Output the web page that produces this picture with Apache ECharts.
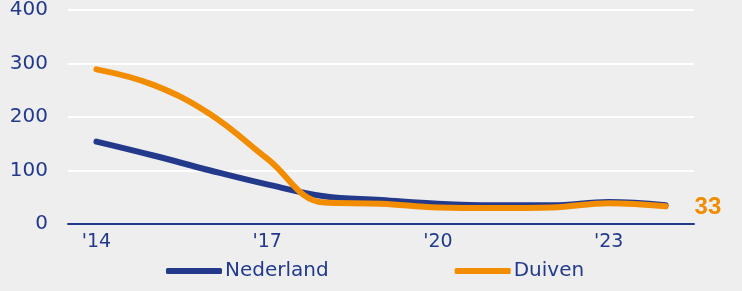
<!DOCTYPE html>
<html>
<head>
<meta charset="utf-8">
<script src="https://cdn.jsdelivr.net/npm/echarts@6/dist/echarts.min.js"></script>
<style>
  html, body { margin: 0; padding: 0; background: #eeeeee; }
  #main { width: 742px; height: 291px; }
</style>
</head>
<body>
<div id="main"></div>
<script>
// jaren 2014 - 2024
var years = ["'14", "'15", "'16", "'17", "'18", "'19", "'20", "'21", "'22", "'23", "'24"];
var nederland = [154, 128, 100, 74, 52, 45, 38, 35, 35, 41, 35];
var duiven = [289, 260, 205, 122, 40, 38, 31, 30, 31, 39, 33];
var yTicks = [0, 100, 200, 300, 400];

var blue = '#233a8c';
var orange = '#f28c00';
var font = 'DejaVu Sans';

var chart = echarts.init(document.getElementById('main'));

var option = {
  backgroundColor: '#eeeeee',
  animation: false,
  textStyle: { fontFamily: font },
  grid: { left: 68, right: 48, top: 8, bottom: 67 },
  legend: {
    bottom: 5,
    left: 161,
    itemWidth: 56,
    itemHeight: 6,
    itemGap: 126,
    icon: 'roundRect',
    textStyle: { color: blue, fontSize: 20, fontFamily: font, padding: [0, 0, 0, -2] },
    data: ['Nederland', 'Duiven']
  },
  xAxis: {
    type: 'category',
    data: years,
    boundaryGap: true,
    axisLine: { lineStyle: { color: blue, width: 2 } },
    axisTick: { show: false },
    axisLabel: {
      color: blue, fontSize: 19, margin: 9,
      interval: function (i) { return i % 3 === 0; }
    }
  },
  yAxis: {
    type: 'value',
    min: yTicks[0],
    max: yTicks[yTicks.length - 1],
    interval: 100,
    axisLine: { show: false },
    axisTick: { show: false },
    axisLabel: { color: blue, fontSize: 20, margin: 20 },
    splitLine: { lineStyle: { color: '#ffffff', width: 2 } }
  },
  series: [
    {
      name: 'Nederland',
      type: 'line',
      data: nederland,
      smooth: 0.4,
      showSymbol: false,
      color: blue,
      lineStyle: { color: blue, width: 6, cap: 'round' }
    },
    {
      name: 'Duiven',
      type: 'line',
      data: duiven,
      smooth: 0.4,
      showSymbol: false,
      color: orange,
      lineStyle: { color: orange, width: 6, cap: 'round' },
      endLabel: {
        show: true,
        color: orange,
        fontSize: 24,
        fontWeight: 'bold',
        fontFamily: 'Liberation Sans',
        distance: 29,
        offset: [0, 1]
      }
    }
  ]
};

chart.setOption(option);
</script>
</body>
</html>
